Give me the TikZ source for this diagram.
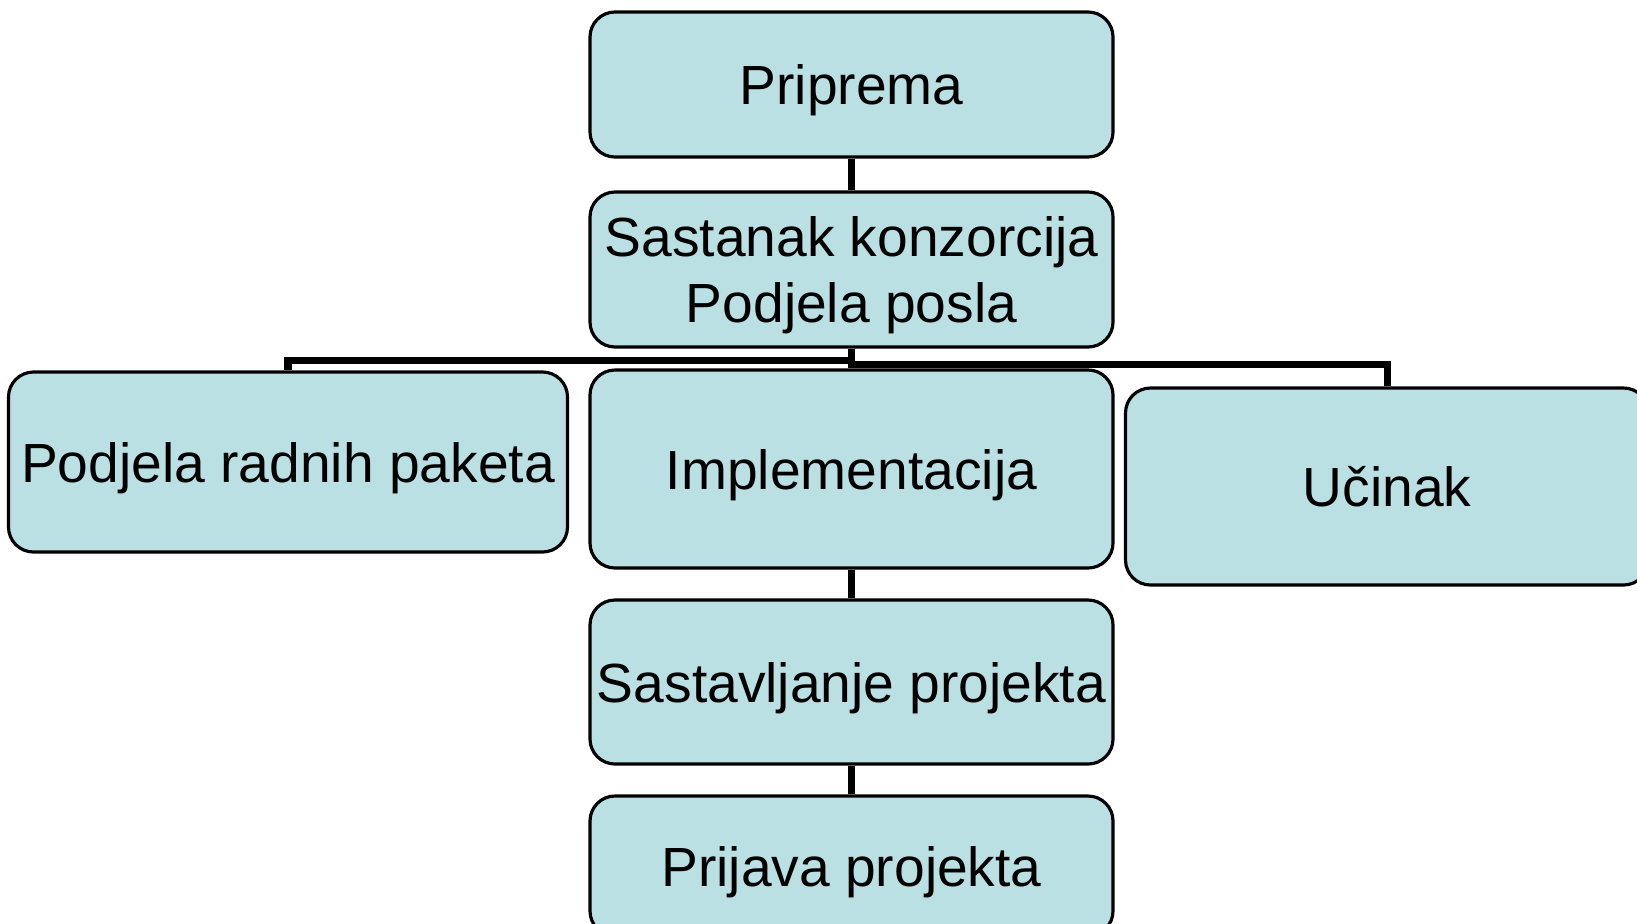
\documentclass[tikz,border=0pt]{standalone}
\usepackage{fontspec}
\setmainfont{Liberation Sans}
\usepackage{tikz}
\usetikzlibrary{calc, positioning, shapes}
\definecolor{boxfill}{RGB}{187,224,227}

\begin{document}
\begin{tikzpicture}[blk/.style={draw=black, fill=boxfill, rounded corners=0.25cm, line width=0.9pt, minimum width=5.23cm, inner sep=0pt, text depth=0pt, align=center, font=\fontsize{15.7}{18.8}\selectfont},every path/.append style={line cap=butt}]
  \useasboundingbox (0,0) rectangle (16.37,-9.23);

  \node[blk, minimum height=1.45cm] (prip) at (8.515,-0.845) {Priprema};
  \node[blk, minimum height=1.55cm] (sast) at (8.515,-2.695) {Sastanak konzorcija\\Podjela posla};

  \node[blk, minimum height=1.80cm, minimum width=5.59cm] (pod) at (2.88,-4.62) {Podjela radnih paketa};
  \node[blk, minimum height=1.98cm] (impl) at (8.515,-4.69) {Implementacija};
  \node[blk, minimum height=1.97cm] (uci) at (13.87,-4.865) {Učinak};

  \node[blk, minimum height=1.64cm] (sasp) at (8.515,-6.82) {Sastavljanje projekta};
  \node[blk, minimum height=1.40cm] (prij) at (8.515,-8.66) {Prijava projekta};

  \draw[line width=2pt] (prip) -- (sast);
  \draw[line width=2pt] (sast.south) -- ++(0,-0.12) -| (pod.north);
  \draw[line width=2pt] (sast.south) -- ++(0,-0.16) -| (uci.north);
  \draw[line width=2pt] (sast.south) -- (impl.north);
  \draw[line width=2pt] (impl) -- (sasp);
  \draw[line width=2pt] (sasp) -- (prij);
 \end{tikzpicture}
\end{document}
